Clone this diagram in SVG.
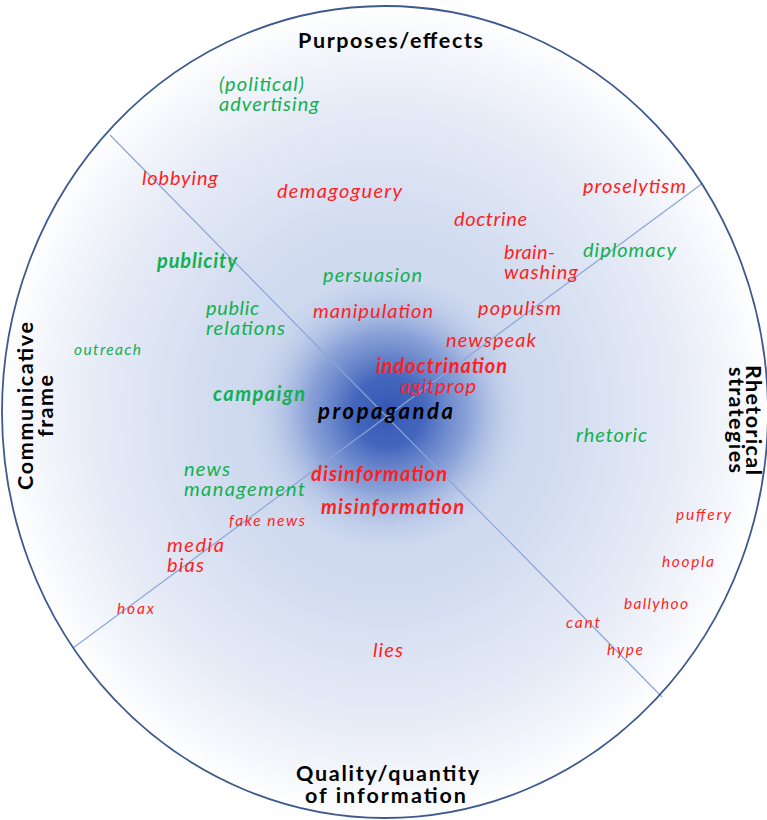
<svg xmlns="http://www.w3.org/2000/svg" width="767" height="820" viewBox="0 0 767 820">
<style>
.t{font-family:Lato,"Liberation Sans",sans-serif;font-style:italic;font-size:20px}
.s{font-size:15.5px}
.b{font-weight:bold;font-size:20px}
.r{fill:#ff1f1f}
.g{fill:#12b050}
.k{fill:#000}
.ti{font-family:Lato,"Liberation Sans",sans-serif;font-weight:bold;font-size:21.5px;fill:#000}
.ax{stroke:#8ba5d8;stroke-width:1.2;fill:none}
</style>
<defs>
<radialGradient id="bg" cx="0.5" cy="0.5" r="0.5">
<stop offset="0" stop-color="#c3d0ea"/>
<stop offset="0.45" stop-color="#d2dcf0"/>
<stop offset="0.75" stop-color="#e5eaf6"/>
<stop offset="0.93" stop-color="#f6f8fc"/>
<stop offset="1" stop-color="#ffffff"/>
</radialGradient>
<radialGradient id="spot" cx="388" cy="412" r="145" gradientUnits="userSpaceOnUse">
<stop offset="0" stop-color="#3356b3" stop-opacity="1"/>
<stop offset="0.25" stop-color="#3b5fba" stop-opacity="0.93"/>
<stop offset="0.55" stop-color="#5f7fc9" stop-opacity="0.6"/>
<stop offset="0.8" stop-color="#9db2de" stop-opacity="0.25"/>
<stop offset="1" stop-color="#c8d4ec" stop-opacity="0"/>
</radialGradient>
</defs>
<g id="background">
<ellipse cx="385" cy="412" rx="383" ry="406" fill="url(#bg)"/>
<ellipse cx="388" cy="412" rx="145" ry="132" fill="url(#spot)"/>
</g>
<g id="connectors">
<line class="ax" x1="110" y1="135" x2="662" y2="697"/>
<line class="ax" x1="703" y1="183" x2="73" y2="648"/>
</g>
<ellipse id="outline" cx="385" cy="412" rx="383" ry="406" fill="none" stroke="#3d5a8e" stroke-width="1.8"/>
<g id="titles">
<g id="title-purposes"><text class="ti" x="298" y="48" textLength="185">Purposes/effects</text></g>
<g id="title-quality"><text class="ti" x="296" y="781" textLength="183">Quality/quantity</text><text class="ti" x="305" y="803" textLength="161">of information</text></g>
<g id="title-communicative"><text class="ti" text-anchor="middle" transform="translate(33,406) rotate(-90)" textLength="168">Communicative</text><text class="ti" text-anchor="middle" transform="translate(53,406) rotate(-90)" textLength="62">frame</text></g>
<g id="title-rhetorical"><text class="ti" text-anchor="middle" transform="translate(746,420) rotate(90)" textLength="110">Rhetorical</text><text class="ti" text-anchor="middle" transform="translate(729,420) rotate(90)" textLength="106">strategies</text></g>
</g>
<g id="terms">
<g id="political-advertising"><text class="t g" x="219" y="91" textLength="85">(political)</text><text class="t g" x="219" y="111" textLength="100">advertising</text></g>
<g id="lobbying"><text class="t r" x="142" y="185" textLength="76">lobbying</text></g>
<g id="demagoguery"><text class="t r" x="277" y="198" textLength="125">demagoguery</text></g>
<g id="proselytism"><text class="t r" x="583" y="193" textLength="103">proselytism</text></g>
<g id="doctrine"><text class="t r" x="454" y="226" textLength="73">doctrine</text></g>
<g id="brainwashing"><text class="t r" x="504" y="259" textLength="51">brain-</text><text class="t r" x="504" y="279" textLength="74">washing</text></g>
<g id="diplomacy"><text class="t g" x="583" y="257" textLength="93">diplomacy</text></g>
<g id="publicity"><text class="t b g" x="157" y="268" textLength="80">publicity</text></g>
<g id="persuasion"><text class="t g" x="323" y="282" textLength="99">persuasion</text></g>
<g id="public-relations"><text class="t g" x="206" y="315" textLength="53">public</text><text class="t g" x="206" y="335" textLength="79">relations</text></g>
<g id="manipulation"><text class="t r" x="313" y="318" textLength="120">manipulation</text></g>
<g id="populism"><text class="t r" x="478" y="315" textLength="83">populism</text></g>
<g id="outreach"><text class="t s g" x="74" y="355" textLength="67">outreach</text></g>
<g id="newspeak"><text class="t r" x="446" y="347" textLength="90">newspeak</text></g>
<g id="indoctrination"><text class="t b r" x="376" y="373" textLength="131">indoctrination</text></g>
<g id="agitprop"><text class="t r" x="400" y="393" textLength="76">agitprop</text></g>
<g id="campaign"><text class="t b g" x="213" y="401" textLength="92">campaign</text></g>
<g id="propaganda"><text class="t b k" x="318" y="419" style="font-size:22px" textLength="135">propaganda</text></g>
<g id="rhetoric"><text class="t g" x="576" y="442" textLength="71">rhetoric</text></g>
<g id="news-management"><text class="t g" x="184" y="476" textLength="46">news</text><text class="t g" x="184" y="496" textLength="121">management</text></g>
<g id="disinformation"><text class="t b r" x="311" y="481" textLength="136">disinformation</text></g>
<g id="misinformation"><text class="t b r" x="321" y="514" textLength="143">misinformation</text></g>
<g id="fake-news"><text class="t s r" x="229" y="526" textLength="76">fake news</text></g>
<g id="puffery"><text class="t s r" x="676" y="520" textLength="55">puffery</text></g>
<g id="media-bias"><text class="t r" x="167" y="552" textLength="57">media</text><text class="t r" x="167" y="572" textLength="37">bias</text></g>
<g id="hoopla"><text class="t s r" x="662" y="567" textLength="52">hoopla</text></g>
<g id="ballyhoo"><text class="t s r" x="624" y="609" textLength="64">ballyhoo</text></g>
<g id="hoax"><text class="t s r" x="117" y="614" textLength="37">hoax</text></g>
<g id="cant"><text class="t s r" x="566" y="628" textLength="34">cant</text></g>
<g id="lies"><text class="t r" x="373" y="657" textLength="30">lies</text></g>
<g id="hype"><text class="t s r" x="607" y="655" textLength="36">hype</text></g>
</g>
</svg>
